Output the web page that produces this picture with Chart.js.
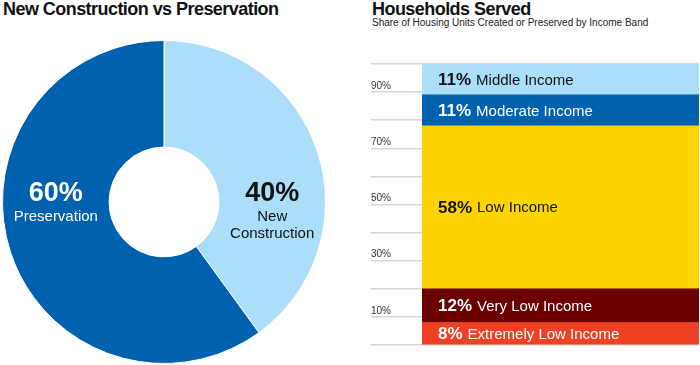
<!DOCTYPE html>
<html>
<head>
<meta charset="utf-8">
<script src="https://cdn.jsdelivr.net/npm/chart.js@4"></script>
<style>
  html,body{margin:0;padding:0;background:#fff;}
  body{width:700px;height:365px;position:relative;overflow:hidden;font-family:"Liberation Sans",Arial,Helvetica,sans-serif;}
  .title{position:absolute;font-weight:bold;font-size:18px;line-height:18px;color:#111;white-space:nowrap;letter-spacing:-0.55px;}
  .sub{position:absolute;font-size:10px;line-height:12px;color:#222;white-space:nowrap;}
  canvas{position:absolute;}
</style>
</head>
<body>
<div class="title" style="left:3px;top:0px">New Construction vs Preservation</div>
<div class="title" style="left:372px;top:0px">Households Served</div>
<div class="sub" style="left:372px;top:17px">Share of Housing Units Created or Preserved by Income Band</div>
<canvas id="donut" width="328" height="324" style="left:0;top:40px"></canvas>
<canvas id="bands" width="329" height="300" style="left:371px;top:54px"></canvas>
<script>
/* ---------- данные ---------- */
const tenureLabels = ['New Construction', 'Preservation'];
const tenureShares = [40, 60];
const tenureColors = ['#abdff9', '#0061ae'];
const tenureText   = ['#111', '#fff'];

const incomeBands  = ['Extremely Low Income', 'Very Low Income', 'Low Income', 'Moderate Income', 'Middle Income'];
const incomeShares = [8, 12, 58, 11, 11];
const incomeColors = ['#ee4123', '#6b0000', '#ffd400', '#0061ae', '#abdff9'];
const incomeText   = ['#fff', '#fff', '#111', '#fff', '#111'];
const tickLabels   = [10, 30, 50, 70, 90];

const FONT = '"Liberation Sans", Arial, Helvetica, sans-serif';
Chart.defaults.font.family = FONT;

/* ---------- подписи на кольце ---------- */
const donutLabels = {
  id: 'donutLabels',
  afterDatasetsDraw(chart){
    const ctx = chart.ctx;
    const arcs = chart.getDatasetMeta(0).data;
    arcs.forEach((arc, i) => {
      const mid = (arc.innerRadius + arc.outerRadius) / 2;
      const side = i === 0 ? 1 : -1;          // новая стройка справа, сохранение слева
      const x = arc.x + side * mid;
      let y = arc.y - 8;
      ctx.save();
      ctx.fillStyle = tenureText[i];
      ctx.textAlign = 'center';
      ctx.textBaseline = 'middle';
      ctx.font = 'bold 27px ' + FONT;
      ctx.fillText(tenureShares[i] + '%', x, y);
      ctx.font = '15px ' + FONT;
      y += 23;
      tenureLabels[i].split(' ').forEach(w => { ctx.fillText(w, x, y); y += 17; });
      ctx.restore();
    });
  }
};

/* ---------- подписи на полосах ---------- */
const bandLabels = {
  id: 'bandLabels',
  afterDatasetsDraw(chart){
    const ctx = chart.ctx;
    chart.data.datasets.forEach((ds, i) => {
      const bar = chart.getDatasetMeta(i).data[0];
      const x = bar.x - bar.width / 2 + 16;
      const y = (bar.y + bar.base) / 2 + 1;
      ctx.save();
      ctx.fillStyle = incomeText[i];
      ctx.textBaseline = 'middle';
      ctx.font = 'bold 17px ' + FONT;
      const pct = incomeShares[i] + '%';
      ctx.fillText(pct, x, y);
      const w = ctx.measureText(pct).width;
      ctx.font = '15px ' + FONT;
      ctx.fillText(incomeBands[i], x + w + 5, y);
      ctx.restore();
    });
  }
};

/* ---------- кольцо ---------- */
new Chart(document.getElementById('donut'), {
  type: 'doughnut',
  data: {
    labels: tenureLabels,
    datasets: [{
      data: tenureShares,
      backgroundColor: tenureColors,
      borderColor: '#fff',
      borderWidth: 1
    }]
  },
  options: {
    responsive: false,
    animation: false,
    cutout: '34%',
    layout: { padding: 0 },
    plugins: { legend: { display: false }, tooltip: { enabled: false } },
    events: []
  },
  plugins: [donutLabels]
});

/* ---------- полосы ---------- */
new Chart(document.getElementById('bands'), {
  type: 'bar',
  data: {
    labels: ['Households'],
    datasets: incomeBands.map((b, i) => ({
      label: b,
      data: [incomeShares[i]],
      backgroundColor: incomeColors[i],
      borderWidth: 0,
      categoryPercentage: 1,
      barPercentage: 1
    }))
  },
  options: {
    responsive: false,
    animation: false,
    layout: { padding: { top: 10, bottom: 8, left: 0, right: 1 } },
    plugins: { legend: { display: false }, tooltip: { enabled: false } },
    events: [],
    scales: {
      x: { stacked: true, display: false },
      y: {
        stacked: true,
        min: 0, max: 100,
        afterFit: s => { s.width = 51; },
        border: { display: false },
        grid: { color: '#d6d6d6', lineWidth: 1.5, tickLength: 51, tickColor: '#d6d6d6' },
        ticks: {
          stepSize: 10,
          autoSkip: false,
          crossAlign: 'far',
          labelOffset: -6,
          color: '#333',
          font: { size: 10 },
          callback: v => tickLabels.includes(v) ? v + '%' : ''
        }
      }
    }
  },
  plugins: [bandLabels]
});
</script>
</body>
</html>
